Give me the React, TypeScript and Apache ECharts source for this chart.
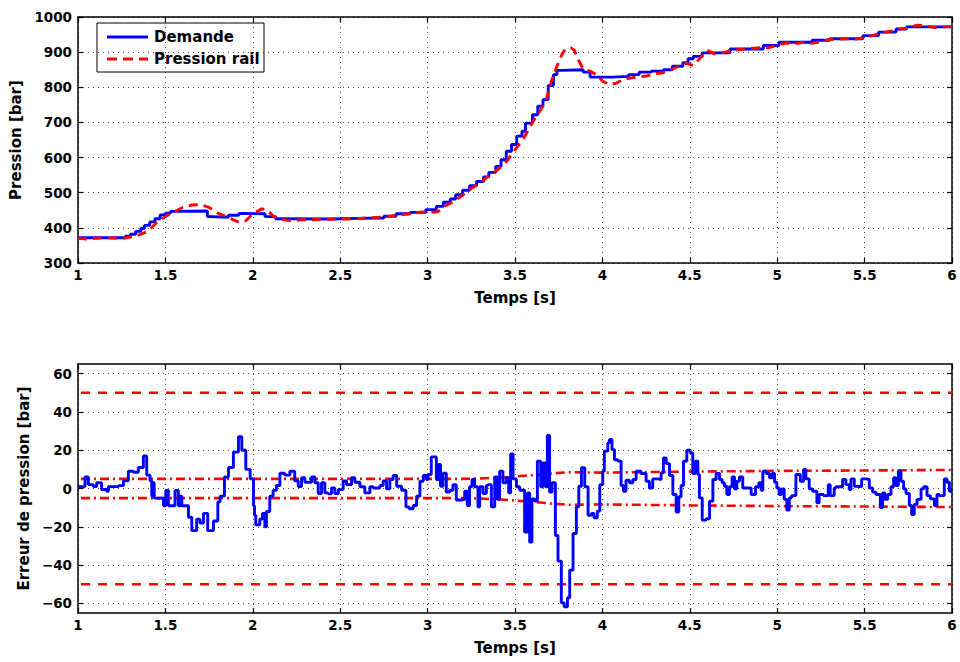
import React, { useEffect, useRef } from "react";
import * as echarts from "echarts";

// ---- Top plot: demand (step) and rail pressure ----
const demandT = [1.0, 1.25, 1.27, 1.3, 1.33, 1.36, 1.38, 1.41, 1.44, 1.47, 1.5, 1.53, 1.56, 1.74, 1.76, 1.86, 1.92, 1.95, 2.07, 2.13, 2.17, 2.45, 2.6, 2.75, 2.82, 2.9, 2.99, 3.05, 3.09, 3.13, 3.16, 3.2, 3.24, 3.28, 3.32, 3.35, 3.39, 3.42, 3.45, 3.48, 3.51, 3.54, 3.56, 3.6, 3.63, 3.66, 3.69, 3.72, 3.74, 3.77, 3.89, 3.93, 4.06, 4.15, 4.21, 4.28, 4.35, 4.4, 4.46, 4.49, 4.52, 4.57, 4.73, 4.92, 5.01, 5.2, 5.3, 5.49, 5.58, 5.68, 5.74, 6.0];
const demandV = [372, 373, 376, 382, 390, 398, 407, 417, 426, 437, 442, 447, 448, 432, 430, 436, 441, 440, 432, 426, 425, 427, 428, 433, 440, 444, 452, 461, 473, 482, 494, 507, 520, 532, 545, 558, 575, 594, 618, 637, 661, 675, 698, 722, 746, 765, 805, 836, 848, 850, 843, 829, 831, 836, 843, 846, 850, 860, 870, 881, 888, 898, 909, 919, 928, 934, 938, 947, 957, 966, 972, 972];

const railT = [1.0, 1.05, 1.1, 1.15, 1.2, 1.25, 1.3, 1.35, 1.4, 1.45, 1.5, 1.55, 1.6, 1.65, 1.7, 1.75, 1.8, 1.85, 1.88, 1.92, 1.96, 2.0, 2.05, 2.08, 2.12, 2.17, 2.22, 2.28, 2.35, 2.45, 2.55, 2.65, 2.75, 2.85, 2.92, 2.97, 3.02, 3.06, 3.1, 3.15, 3.2, 3.25, 3.3, 3.35, 3.4, 3.45, 3.5, 3.55, 3.6, 3.65, 3.68, 3.71, 3.74, 3.77, 3.79, 3.82, 3.84, 3.86, 3.89, 3.93, 3.97, 4.0, 4.04, 4.08, 4.12, 4.18, 4.25, 4.3, 4.35, 4.4, 4.45, 4.48, 4.52, 4.55, 4.6, 4.64, 4.7, 4.75, 4.8, 4.9, 4.95, 5.0, 5.05, 5.1, 5.15, 5.2, 5.25, 5.3, 5.4, 5.45, 5.5, 5.55, 5.6, 5.65, 5.7, 5.75, 5.8, 5.85, 5.9, 5.95, 6.0];
const railV = [370, 368, 370, 372, 371, 370, 374, 380, 390, 415, 432, 446, 458, 465, 466, 458, 442, 432, 425, 416, 420, 440, 454, 452, 432, 424, 420, 423, 423, 425, 425, 428, 431, 437, 442, 445, 444, 446, 462, 475, 493, 512, 528, 548, 565, 588, 622, 655, 700, 738, 768, 820, 860, 895, 910, 912, 905, 880, 852, 846, 835, 818, 807, 812, 822, 828, 832, 838, 842, 852, 862, 868, 862, 878, 905, 895, 900, 905, 908, 913, 912, 920, 926, 924, 928, 925, 930, 936, 938, 937, 942, 948, 955, 960, 966, 968, 977, 975, 970, 972, 973];

// ---- Bottom plot: pressure error (step) ----
const errorT = [1.0, 1.04, 1.059, 1.088, 1.107, 1.135, 1.164, 1.174, 1.231, 1.26, 1.288, 1.317, 1.345, 1.374, 1.393, 1.412, 1.422, 1.43, 1.436, 1.489, 1.502, 1.517, 1.555, 1.574, 1.585, 1.594, 1.632, 1.651, 1.679, 1.698, 1.718, 1.742, 1.775, 1.8, 1.813, 1.838, 1.861, 1.889, 1.918, 1.937, 1.96, 1.985, 2.004, 2.01, 2.017, 2.04, 2.055, 2.069, 2.078, 2.097, 2.116, 2.135, 2.155, 2.183, 2.212, 2.24, 2.26, 2.279, 2.298, 2.336, 2.355, 2.374, 2.393, 2.412, 2.431, 2.45, 2.469, 2.489, 2.517, 2.536, 2.565, 2.584, 2.613, 2.641, 2.67, 2.689, 2.727, 2.746, 2.765, 2.784, 2.803, 2.823, 2.851, 2.876, 2.895, 2.918, 2.937, 2.956, 2.975, 2.994, 3.002, 3.021, 3.05, 3.063, 3.074, 3.088, 3.107, 3.126, 3.145, 3.164, 3.193, 3.212, 3.227, 3.24, 3.254, 3.269, 3.288, 3.298, 3.317, 3.336, 3.345, 3.365, 3.384, 3.399, 3.412, 3.431, 3.45, 3.464, 3.475, 3.489, 3.508, 3.527, 3.555, 3.571, 3.584, 3.597, 3.613, 3.628, 3.647, 3.66, 3.674, 3.685, 3.698, 3.712, 3.731, 3.746, 3.765, 3.781, 3.8, 3.813, 3.832, 3.851, 3.865, 3.88, 3.899, 3.918, 3.937, 3.952, 3.971, 3.985, 4.002, 4.011, 4.031, 4.04, 4.055, 4.069, 4.088, 4.107, 4.12, 4.135, 4.155, 4.174, 4.193, 4.221, 4.25, 4.269, 4.288, 4.317, 4.336, 4.349, 4.365, 4.384, 4.403, 4.422, 4.437, 4.45, 4.464, 4.483, 4.502, 4.517, 4.532, 4.546, 4.555, 4.571, 4.594, 4.613, 4.632, 4.651, 4.67, 4.685, 4.698, 4.712, 4.727, 4.742, 4.756, 4.769, 4.784, 4.803, 4.851, 4.876, 4.895, 4.908, 4.918, 4.937, 4.956, 4.971, 4.985, 4.998, 5.011, 5.025, 5.04, 5.055, 5.069, 5.082, 5.107, 5.132, 5.151, 5.164, 5.183, 5.202, 5.227, 5.24, 5.265, 5.292, 5.303, 5.326, 5.336, 5.374, 5.393, 5.412, 5.422, 5.441, 5.456, 5.483, 5.508, 5.527, 5.546, 5.565, 5.59, 5.603, 5.616, 5.632, 5.651, 5.666, 5.679, 5.693, 5.708, 5.723, 5.737, 5.756, 5.769, 5.784, 5.8, 5.823, 5.838, 5.857, 5.876, 5.899, 5.914, 5.927, 5.956, 5.971, 5.985, 6.0];
const errorV = [1, 6, 2, 1, 3, -0.5, -1.5, 1, 1.5, 4, 9, 8.5, 11, 17, 7, 4, -4, 3, -5, -9, -1, -9, -1, -9, -4, -9, -15, -22, -16, -18, -13, -22, -17, -7, -4, 6, 11, 19, 27, 20, 10, 5, -9, -14, -19, -16, -13, -20, -12, -4, -1, 1.6, 8, 7, 9, 4, 1, 5.6, 3.3, 6, 3, -2.6, 3, -2.3, -2.8, 0.3, -2.6, -0.5, 4, 2, 5.6, 3.3, 0.9, -2.3, 0.9, 0.3, 1.6, 4, -0.2, 4.7, 6.8, 1.2, -0.9, -9.6, -10.6, -8.9, -4, 3.8, 6.8, 4.7, 7.3, 16.5, 4.7, 12.5, 1.2, 8, -1.9, -0.9, 2, -6, -5.7, -1.4, -8.9, 0.9, 4.7, 0.9, -9.6, 0.9, -2.6, 1.6, 2, -9.6, 6, -5.7, 9, 3, 5.6, -2.3, 18, 5, 0.9, -0.9, -22.8, -2.3, -28, -5.4, -6.6, 14.3, 0.9, 13.4, 0.9, 27.7, -1.9, 3, -24.5, -37.9, -59.7, -61.7, -57, -42.6, -23.5, -9.6, 1.2, 10.8, 0.9, -14, -13, -15.3, -11.8, 2, 9, 19.5, 23.8, 25.6, 20.3, 15, 14.3, 1.6, -1.4, 4.3, 3, 4.7, 9, 7.8, 3.8, 0.3, 5, 4.7, 8.2, 16, 13, 6.8, -3.1, -12.3, -4.3, 1.6, 14.3, 20, 18.6, 7.8, 14.3, 7.3, -4.9, -16.5, -15.8, -6.6, 4.7, 7.8, 4.7, 3, 1.2, -3.1, 0.9, 6, -0.2, 3.8, 6, 0.3, -3.1, 0.9, 3, -0.9, 9, 7.8, 5.6, 7.8, 3.3, 0.3, -3.1, -0.2, -5.7, -11.3, -4.9, -3.7, 7.3, 3.8, 9.9, 5, -0.2, -1.4, -7.5, -3.1, -3.7, 2, -3.7, 0.3, 0.9, 4.7, 2, -0.5, 5, 1.2, 0.9, 5, 4.7, 0.3, -1.9, -3.1, -10, -2.3, -5.7, -3.1, 0.9, 5.6, 1.6, 9, 3.8, -0.2, -2.6, -8.9, -13.6, -8.3, -5.7, -0.2, 0.9, -3.7, -5.4, -8.9, -3.1, -3.7, 5, 3.3, -1.4, -1.4];

// tolerance band (dash-dot) and limits (dashed)
const tolT = [1.0, 3.2, 3.3, 3.4, 3.5, 3.6, 3.7, 3.8, 4.0, 4.5, 5.0, 5.5, 6.0];
const tolUpper = [5, 5, 5.3, 5.6, 6.3, 7.0, 7.8, 8.5, 8.3, 8.8, 9.2, 9.4, 9.7];
const tolLower = [-5, -5, -5.3, -5.6, -6.3, -7.0, -7.8, -8.5, -8.3, -8.8, -9.2, -9.4, -9.7];
const limitT = [1, 6];
const limitUpper = [50, 50];
const limitLower = [-50, -50];

const errTicks = [-60, -40, -20, 0, 20, 40, 60];
const legendNames = ["Demande", "Pression rail"];

const zip = (a: number[], b: number[]) => a.map((x, i) => [x, b[i]]);

const FONT = "'DejaVu Sans', sans-serif";
const BLUE = "#0000ff";
const RED = "#ff0000";
const LW = 2.9;

const tickLabel = { color: "#000", fontFamily: FONT, fontWeight: "bold" as const, fontSize: 13.5 };
const nameStyle = { color: "#000", fontFamily: FONT, fontWeight: "bold" as const, fontSize: 15 };
const axLine = { show: true, onZero: false, lineStyle: { color: "#000", width: 1.5 } };
const gridLine = { show: true, lineStyle: { color: "#000", width: 1, type: [1, 4], opacity: 0.7 } };
const tick = { show: true, inside: true, length: 5, lineStyle: { color: "#000", width: 1.2 } };
const fmt = (v: number) => (v < 0 ? "\u2212" + Math.abs(v) : String(v));

function xAxes(gridIndex: number) {
  return [
    {
      type: "value", gridIndex, min: 1, max: 6, interval: 0.5, position: "bottom",
      axisLine: axLine, axisTick: tick,
      axisLabel: { ...tickLabel, margin: 5, formatter: fmt },
      splitLine: gridLine,
      name: "Temps [s]", nameLocation: "middle", nameGap: 27, nameTextStyle: nameStyle,
    },
    {
      type: "value", gridIndex, min: 1, max: 6, interval: 0.5, position: "top",
      axisLine: axLine, axisTick: tick,
      axisLabel: { show: false }, splitLine: { show: false },
    },
  ];
}

const option: any = {
  animation: false,
  backgroundColor: "#fff",
  grid: [
    { left: 78, top: 17, width: 874, height: 246 },
    { left: 78, top: 364, width: 874, height: 249 },
  ],
  xAxis: [...xAxes(0), ...xAxes(1)],
  yAxis: [
    {
      type: "value", gridIndex: 0, min: 300, max: 1000, interval: 100, position: "left",
      axisLine: axLine, axisTick: tick,
      axisLabel: { ...tickLabel, margin: 6, formatter: fmt }, splitLine: gridLine,
      name: "Pression [bar]", nameLocation: "middle", nameGap: 49, nameTextStyle: nameStyle,
    },
    {
      type: "value", gridIndex: 0, min: 300, max: 1000, interval: 100, position: "right",
      axisLine: axLine, axisTick: tick,
      axisLabel: { show: false }, splitLine: { show: false },
    },
    {
      type: "value", gridIndex: 1, min: -65, max: 65, position: "left",
      axisLine: axLine,
      axisTick: { ...tick, customValues: errTicks },
      axisLabel: { ...tickLabel, margin: 6, customValues: errTicks, formatter: fmt }, splitLine: gridLine,
      name: "Erreur de pression [bar]", nameLocation: "middle", nameGap: 40, nameTextStyle: nameStyle,
    },
    {
      type: "value", gridIndex: 1, min: -65, max: 65, position: "right",
      axisLine: axLine,
      axisTick: { ...tick, customValues: errTicks },
      axisLabel: { show: false }, splitLine: { show: false },
    },
  ],
  series: [
    {
      name: legendNames[0], type: "line", xAxisIndex: 0, yAxisIndex: 0, step: "end", symbol: "none",
      data: zip(demandT, demandV), lineStyle: { color: BLUE, width: LW }, z: 3,
    },
    {
      name: legendNames[1], type: "line", xAxisIndex: 0, yAxisIndex: 0, symbol: "none",
      data: zip(railT, railV), lineStyle: { color: RED, width: LW, type: [9, 6] }, z: 4,
    },
    {
      name: "limitUp", type: "line", xAxisIndex: 2, yAxisIndex: 2, symbol: "none",
      data: zip(limitT, limitUpper), lineStyle: { color: RED, width: 2.6, type: [9, 8], dashOffset: -3 }, z: 2,
    },
    {
      name: "limitLow", type: "line", xAxisIndex: 2, yAxisIndex: 2, symbol: "none",
      data: zip(limitT, limitLower), lineStyle: { color: RED, width: 2.6, type: [9, 8], dashOffset: -3 }, z: 2,
    },
    {
      name: "tolUp", type: "line", xAxisIndex: 2, yAxisIndex: 2, symbol: "none",
      data: zip(tolT, tolUpper), lineStyle: { color: RED, width: 2.6, type: [9, 4, 2, 4], dashOffset: -3 }, z: 2,
    },
    {
      name: "tolLow", type: "line", xAxisIndex: 2, yAxisIndex: 2, symbol: "none",
      data: zip(tolT, tolLower), lineStyle: { color: RED, width: 2.6, type: [9, 4, 2, 4], dashOffset: -3 }, z: 2,
    },
    {
      name: "Erreur", type: "line", xAxisIndex: 2, yAxisIndex: 2, step: "end", symbol: "none",
      data: zip(errorT, errorV), lineStyle: { color: BLUE, width: LW }, z: 3,
    },
  ],
  graphic: [
    {
      type: "group", z: 100,
      children: [
        { type: "rect", shape: { x: 97, y: 23, width: 167, height: 49 }, style: { fill: "#fff", stroke: "#000", lineWidth: 1 } },
        { type: "line", shape: { x1: 107, y1: 37, x2: 148, y2: 37 }, style: { stroke: BLUE, lineWidth: LW } },
        { type: "line", shape: { x1: 107, y1: 59, x2: 148, y2: 59 }, style: { stroke: RED, lineWidth: LW, lineDash: [10, 6] } },
        { type: "text", x: 154, y: 37, style: { text: legendNames[0], fill: "#000", font: "bold 15px 'DejaVu Sans'", verticalAlign: "middle" } },
        { type: "text", x: 154, y: 59, style: { text: legendNames[1], fill: "#000", font: "bold 15px 'DejaVu Sans'", verticalAlign: "middle" } },
      ],
    },
  ],
};

export default function App() {
  const ref = useRef<HTMLDivElement>(null);
  useEffect(() => {
    document.body.style.margin = "0";
    const chart = echarts.init(ref.current!, null, { renderer: "svg" });
    chart.setOption(option);
    return () => chart.dispose();
  }, []);
  return <div ref={ref} style={{ width: 960, height: 662 }} />;
}
